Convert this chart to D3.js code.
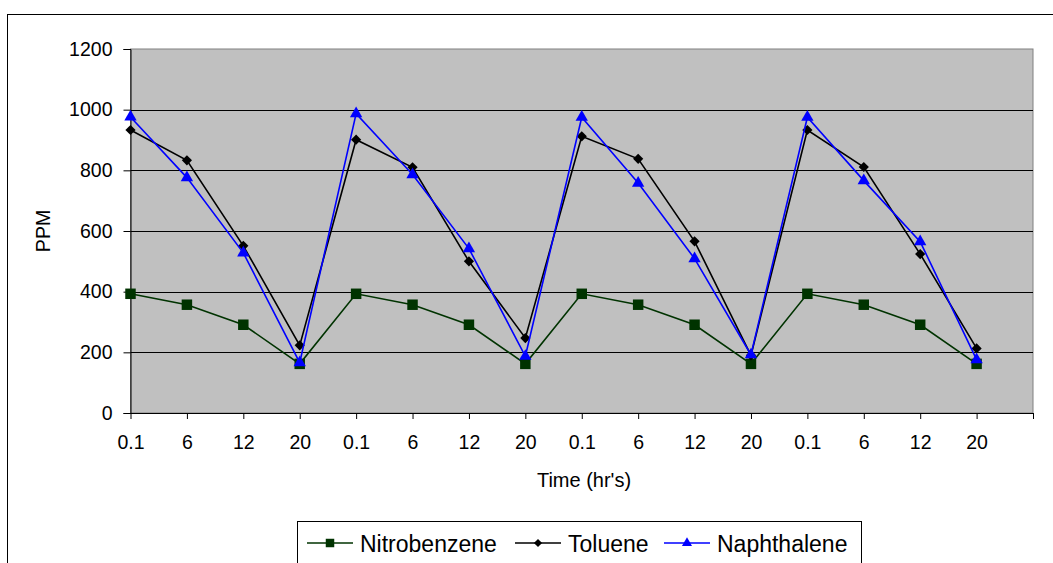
<!DOCTYPE html>
<html lang="en">
<head>
  <meta charset="UTF-8">
  <title>PPM over time</title>
  <style>
    body { margin: 0; background: #fff; }
    svg { display: block; font-family: "Liberation Sans", Arial, sans-serif; }
  </style>
</head>
<body>
  <div id="chart"></div>

  <script src="https://d3js.org/d3.v7.min.js"></script>
  <script>

    // data
    const categories = ["0.1", "6", "12", "20", "0.1", "6", "12", "20",
                        "0.1", "6", "12", "20", "0.1", "6", "12", "20"];
    const nitrobenzene = [393, 357, 291, 162, 393, 357, 291, 162,
                          393, 357, 291, 162, 393, 357, 291, 162];
    const toluene = [933, 833, 551, 223, 901, 810, 500, 247,
                     912, 838, 566, 190, 933, 811, 524, 213];
    const naphthalene = [976, 776, 528, 166, 987, 786, 542, 187,
                         975, 758, 509, 192, 975, 766, 565, 176];
    const yTicks = [0, 200, 400, 600, 800, 1000, 1200];

    const width = 1053,
          height = 563;

    // rot = rotate marker (diamond = square turned 45deg)
    const series = [
      {name: "Nitrobenzene", values: nitrobenzene, color: "#003300", shape: d3.symbolSquare, size: 110, legSize: 72, rot: 0},
      {name: "Toluene", values: toluene, color: "#000000", shape: d3.symbolSquare, size: 52, legSize: 34, rot: 45},
      {name: "Naphthalene", values: naphthalene, color: "#0000ff", shape: d3.symbolTriangle, size: 66, legSize: 44, rot: 0}
    ];

    const svg = d3.select("#chart")
      .append("svg")
      .attr("width", width)
      .attr("height", height);

    // outer chart border
    svg.append("rect")
      .attr("x", 7.5).attr("y", 14.5)
      .attr("width", 1100).attr("height", 600)
      .attr("fill", "#fff")
      .attr("stroke", "#000")
      .attr("stroke-width", 1);

    const x = d3.scaleLinear([0, categories.length], [130.5, 1033]);
    const y = d3.scaleLinear([0, 1200], [413, 49]);

    // plot area
    svg.append("rect")
      .attr("x", x(0)).attr("y", y(1200))
      .attr("width", x(categories.length) - x(0))
      .attr("height", y(0) - y(1200))
      .attr("fill", "#c0c0c0")
      .attr("stroke", "#808080");

    // gridlines
    svg.append("g")
      .selectAll("line")
      .data(yTicks.slice(1, -1))
      .join("line")
      .attr("x1", x(0)).attr("x2", x(categories.length))
      .attr("y1", d => Math.round(y(d)) + 0.5)
      .attr("y2", d => Math.round(y(d)) + 0.5)
      .attr("stroke", "#000");

    const yAxis = svg.append("g")
      .attr("transform", `translate(${x(0)},0)`)
      .call(d3.axisLeft(y).tickValues(yTicks).tickFormat(d3.format("d"))
        .tickSize(7).tickPadding(11));
    yAxis.select(".domain").attr("stroke", "#000");
    yAxis.selectAll("text").attr("font-size", 19.5).attr("fill", "#000")
      .attr("font-family", "Liberation Sans, Arial, sans-serif");

    const xAxis = svg.append("g")
      .attr("transform", `translate(0,${y(0)})`)
      .call(d3.axisBottom(x)
        .tickValues(d3.range(categories.length + 1))
        .tickFormat(i => categories[i] || "")
        .tickSize(6).tickSizeOuter(0).tickPadding(16));
    xAxis.select(".domain").attr("stroke", "#000");
    xAxis.selectAll("text").attr("font-size", 19.5).attr("fill", "#000")
      .attr("font-family", "Liberation Sans, Arial, sans-serif");

    // series lines + markers
    const line = d3.line()
      .x((d, i) => x(i))
      .y(d => y(d));

    series.forEach(s => {
      const g = svg.append("g");
      g.append("path")
        .datum(s.values)
        .attr("d", line)
        .attr("fill", "none")
        .attr("stroke", s.color)
        .attr("stroke-width", 1.6);
      g.selectAll("path.mk")
        .data(s.values)
        .join("path")
        .attr("class", "mk")
        .attr("transform", (d, i) => `translate(${x(i)},${y(d)}) rotate(${s.rot})`)
        .attr("d", d3.symbol(s.shape, s.size))
        .attr("fill", s.color);
    });

    // axis titles
    svg.append("text")
      .attr("transform", "translate(50,231) rotate(-90)")
      .attr("text-anchor", "middle")
      .style("font-size", "19.5px")
      .text("PPM");

    svg.append("text")
      .attr("x", 584)
      .attr("y", 487)
      .attr("text-anchor", "middle")
      .style("font-size", "20px")
      .text("Time (hr's)");

    // legend
    svg.append("rect")
      .attr("x", 297.5).attr("y", 521.5)
      .attr("width", 564).attr("height", 60)
      .attr("fill", "#fff")
      .attr("stroke", "#000");

    const legendX = [307, 515, 664];
    const legendGroup = svg.selectAll(".legend-group")
      .data(series)
      .join("g")
      .attr("class", "legend-group")
      .attr("transform", (d, i) => `translate(${legendX[i]},543)`);

    legendGroup.append("line")
      .attr("x1", 0).attr("x2", 46)
      .attr("stroke", d => d.color)
      .attr("stroke-width", 1.6);

    legendGroup.append("path")
      .attr("transform", d => `translate(23,0) rotate(${d.rot})`)
      .attr("d", d => d3.symbol(d.shape, d.legSize)())
      .attr("fill", d => d.color);

    legendGroup.append("text")
      .attr("x", 53)
      .attr("y", 9)
      .style("font-size", "23px")
      .text(d => d.name);

  </script>
</body>
</html>
